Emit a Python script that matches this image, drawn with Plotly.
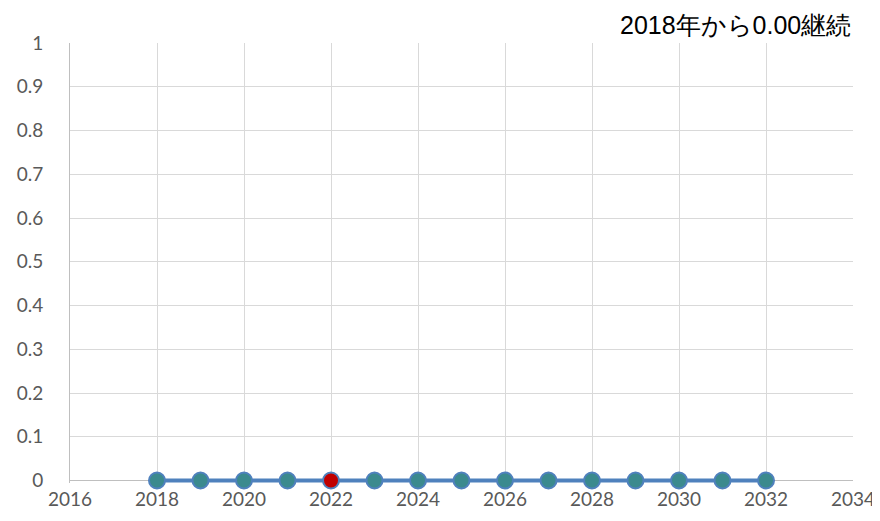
import plotly.graph_objects as go

years = [2018, 2019, 2020, 2021, 2022, 2023, 2024, 2025, 2026, 2027, 2028, 2029, 2030, 2031, 2032]
values = [0, 0, 0, 0, 0, 0, 0, 0, 0, 0, 0, 0, 0, 0, 0]
highlight_year = 2022
title_text = "2018年から0.00継続"

fill_colors = ["#c00000" if y == highlight_year else "#3b8a8e" for y in years]

# extend the y range a hair below zero so the thick line at y=0 is not clipped
pad_px = 2.5
plot_h = 438
y_lo = -pad_px / plot_h

fig = go.Figure()
fig.add_trace(go.Scatter(
    x=years, y=values, mode="lines+markers",
    line=dict(color="#4f81bd", width=4),
    marker=dict(size=16, color=fill_colors, line=dict(color="#4f81bd", width=2)),
    cliponaxis=False, showlegend=False,
))

# the page body adds an 8px margin, so the figure is sized/offset to compensate
fig.update_layout(
    width=872, height=513,
    margin=dict(l=62, r=27, t=35, b=40 - pad_px),
    paper_bgcolor="white", plot_bgcolor="white",
    font=dict(family="Lato, Carlito, Calibri, sans-serif", size=19, color="#595959"),
    xaxis=dict(range=[2016, 2034], dtick=2, tick0=2016, showgrid=True, gridcolor="#d9d9d9",
               gridwidth=1, zeroline=False, showline=False,
               ticks="", ticklabelstandoff=3, automargin=False),
    yaxis=dict(range=[y_lo, 1], dtick=0.1, tick0=0, showgrid=True, gridcolor="#d9d9d9", gridwidth=1,
               zeroline=True, zerolinecolor="#bfbfbf", zerolinewidth=1,
               showline=True, linecolor="#bfbfbf", linewidth=1,
               ticks="", tickformat="~g", ticklabelstandoff=22, automargin=False),
    annotations=[dict(text=title_text, xref="paper", yref="paper", x=1, y=1, xanchor="right",
                      yanchor="bottom", yshift=2, showarrow=False,
                      font=dict(family="Liberation Sans, Arial, sans-serif", size=25, color="#000000"))],
)

fig.write_html("out.html")
